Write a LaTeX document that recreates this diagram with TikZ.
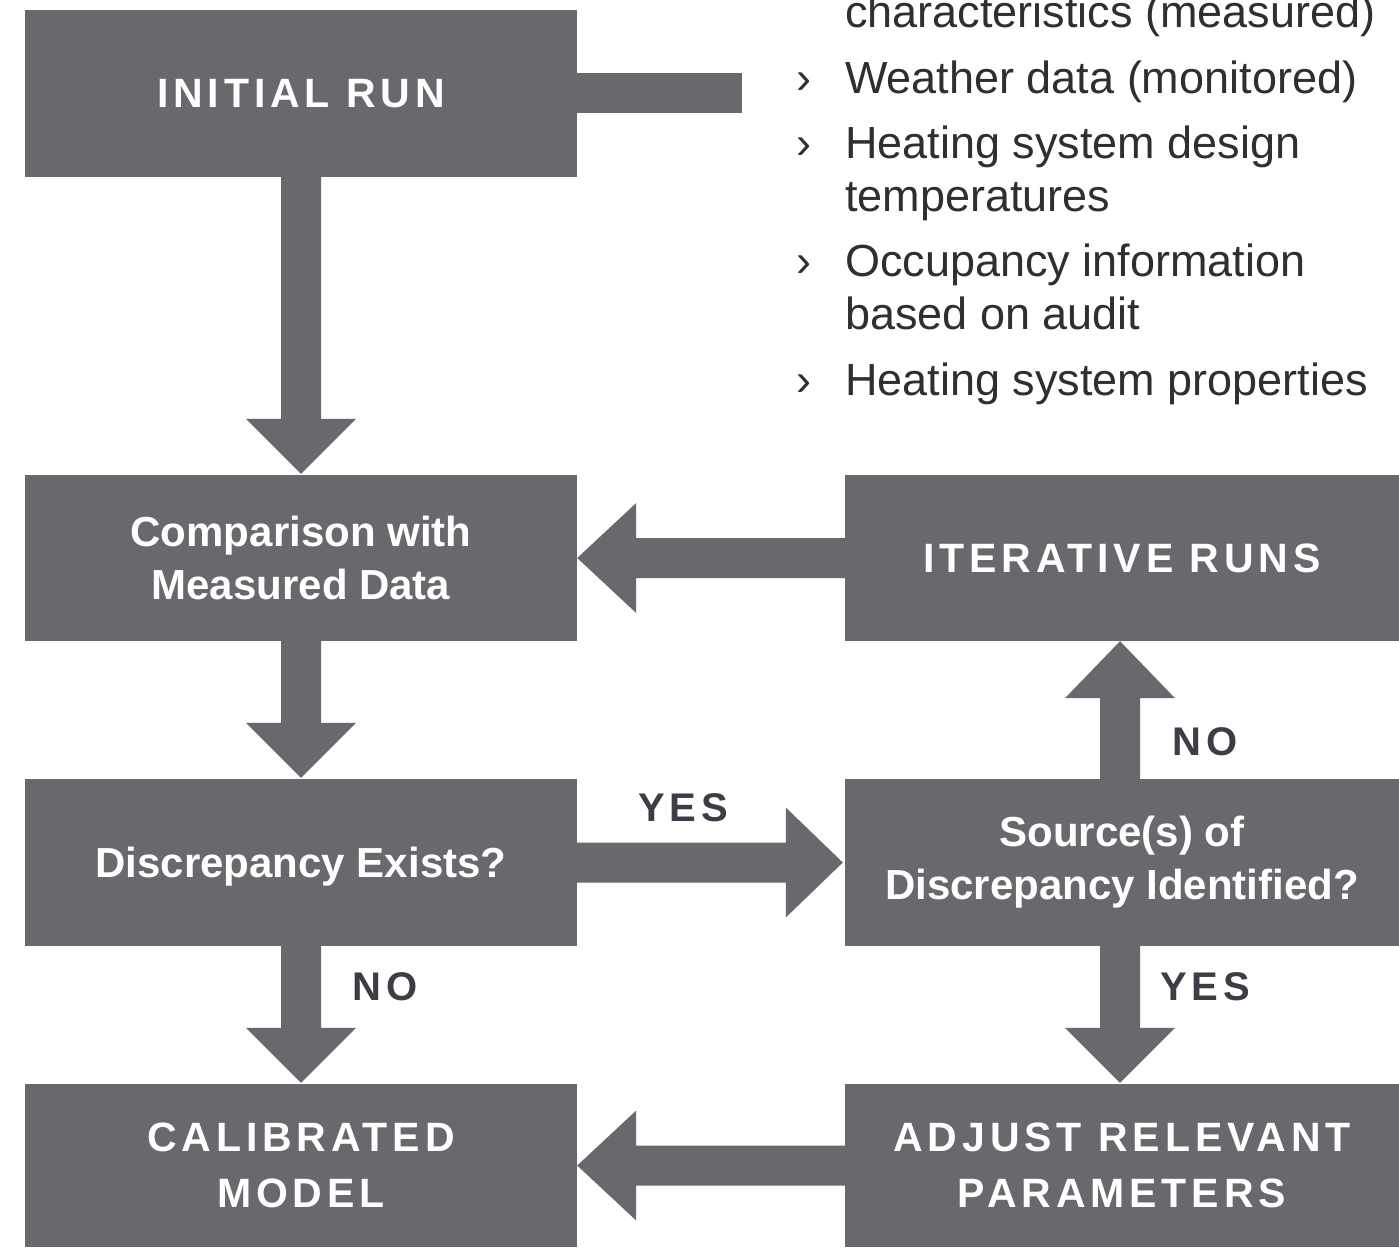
\documentclass[tikz,border=0pt]{standalone}
\usepackage{fontspec}
\setmainfont{Liberation Sans}
\newfontfamily\capsfont[LetterSpace=12]{Liberation Sans}
\usetikzlibrary{calc}
\definecolor{boxgray}{HTML}{6A676D}
\definecolor{labeldark}{HTML}{3E3D45}
\definecolor{listtext}{HTML}{2F2F31}
\tikzset{
  box/.style={rectangle, fill=boxgray, inner sep=0pt, text=white, align=center},
  lefbox/.style={box, minimum width=552pt},
  rigbox/.style={box, minimum width=554pt},
  mixedtxt/.style={font=\bfseries\fontsize{42}{53}\selectfont},
  capstxt/.style={font=\capsfont\bfseries\fontsize{41}{56}\selectfont},
  lbl/.style={text=labeldark, inner sep=0pt, font=\capsfont\bfseries\fontsize{40}{48}\selectfont},
  item/.style={text=listtext, inner sep=0pt, anchor=base west, font=\fontsize{45}{53}\selectfont},
  flow/.style={fill=boxgray}
}
\begin{document}
\begin{tikzpicture}[x=1pt,y=-1pt]
\useasboundingbox (0,0) rectangle (1399,1247);
\fill[white] (0,0) rectangle (1399,1247);
\clip (0,0) rectangle (1399,1247);

% boxes
\node[lefbox, capstxt, minimum height=167pt] (init) at (301,93.5) {INITIAL RUN};
\node[lefbox, mixedtxt, minimum height=166pt] (comp) at (301,558) {Comparison with\\Measured Data};
\node[rigbox, capstxt, minimum height=166pt] (iter) at (1122,558) {ITERATIVE RUNS};
\node[lefbox, mixedtxt, minimum height=167pt, text depth=0pt] (disc) at (301,862.5) {Discrepancy Exists?};
\node[rigbox, mixedtxt, minimum height=167pt] (src) at (1122,862.5) {Source(s) of\\Discrepancy Identified?};
\node[lefbox, capstxt, minimum height=163pt] (calib) at (301,1165.5) {CALIBRATED\\MODEL};
\node[rigbox, capstxt, minimum height=163pt] (adjust) at (1122,1165.5) {ADJUST RELEVANT\\PARAMETERS};

% input bar from initial run
\coordinate (feed) at (742,93);
\fill[flow] let \p1=(init.east), \p2=(feed) in (\x1,\y2+20pt) rectangle (\x2,\y2-20pt);

% down arrows
\fill[flow] let \p1=(init.south), \p2=(comp.north) in
  (\x1-20pt,\y1) -- (\x1+20pt,\y1) -- (\x1+20pt,\y2+56pt) -- (\x1+55pt,\y2+56pt)
  -- (\x1,\y2+1pt) -- (\x1-55pt,\y2+56pt) -- (\x1-20pt,\y2+56pt) -- cycle;
\fill[flow] let \p1=(comp.south), \p2=(disc.north) in
  (\x1-20pt,\y1) -- (\x1+20pt,\y1) -- (\x1+20pt,\y2+56pt) -- (\x1+55pt,\y2+56pt)
  -- (\x1,\y2+1pt) -- (\x1-55pt,\y2+56pt) -- (\x1-20pt,\y2+56pt) -- cycle;
\fill[flow] let \p1=(disc.south), \p2=(calib.north) in
  (\x1-20pt,\y1) -- (\x1+20pt,\y1) -- (\x1+20pt,\y2+56pt) -- (\x1+55pt,\y2+56pt)
  -- (\x1,\y2+1pt) -- (\x1-55pt,\y2+56pt) -- (\x1-20pt,\y2+56pt) -- cycle;
\fill[flow] let \p1=($(src.south)+(-2,0)$), \p2=(adjust.north) in
  (\x1-20pt,\y1) -- (\x1+20pt,\y1) -- (\x1+20pt,\y2+56pt) -- (\x1+55pt,\y2+56pt)
  -- (\x1,\y2+1pt) -- (\x1-55pt,\y2+56pt) -- (\x1-20pt,\y2+56pt) -- cycle;

% up arrow
\fill[flow] let \p1=($(src.north)+(-2,0)$), \p2=(iter.south) in
  (\x1-20pt,\y1) -- (\x1+20pt,\y1) -- (\x1+20pt,\y2-57pt) -- (\x1+55pt,\y2-57pt)
  -- (\x1,\y2) -- (\x1-55pt,\y2-57pt) -- (\x1-20pt,\y2-57pt) -- cycle;

% left arrows
\fill[flow] let \p1=(iter.west), \p2=(comp.east) in
  (\x1,\y1+20pt) -- (\x2+59pt,\y1+20pt) -- (\x2+59pt,\y1+55pt) -- (\x2,\y1)
  -- (\x2+59pt,\y1-55pt) -- (\x2+59pt,\y1-20pt) -- (\x1,\y1-20pt) -- cycle;
\fill[flow] let \p1=(adjust.west), \p2=(calib.east) in
  (\x1,\y1+20pt) -- (\x2+59pt,\y1+20pt) -- (\x2+59pt,\y1+55pt) -- (\x2,\y1)
  -- (\x2+59pt,\y1-55pt) -- (\x2+59pt,\y1-20pt) -- (\x1,\y1-20pt) -- cycle;

% right arrow
\fill[flow] let \p1=(disc.east), \p2=(src.west) in
  (\x1,\y1+20pt) -- (\x2-59pt,\y1+20pt) -- (\x2-59pt,\y1+55pt) -- (\x2-2pt,\y1)
  -- (\x2-59pt,\y1-55pt) -- (\x2-59pt,\y1-20pt) -- (\x1,\y1-20pt) -- cycle;

% labels
\node[lbl] (yes1) at (683,808) {YES};
\node[lbl] (no1) at (1205,742) {NO};
\node[lbl] (no2) at (385,987) {NO};
\node[lbl] (yes2) at (1205,987) {YES};

% input list
\node[item] (l0) at (845,28) {characteristics (measured)};
\node[item] (b1) at (796,93) {›};
\node[item] (l1) at (845,93) {Weather data (monitored)};
\node[item] (b2) at (796,158) {›};
\node[item] (l2) at (845,158) {Heating system design};
\node[item] (l2b) at (845,211) {temperatures};
\node[item] (b3) at (796,276) {›};
\node[item] (l3) at (845,276) {Occupancy information};
\node[item] (l3b) at (845,329) {based on audit};
\node[item] (b4) at (796,395) {›};
\node[item] (l4) at (845,395) {Heating system properties};
\end{tikzpicture}
\end{document}
